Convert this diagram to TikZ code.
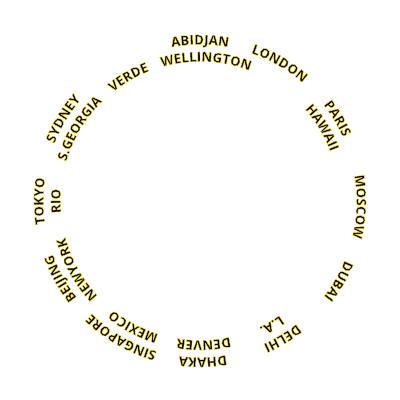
\documentclass[tikz,border=0pt]{standalone}
\usepackage{fontspec}
\setmainfont{Open Sans}
\usetikzlibrary{decorations.text}
\newcommand\clockoutline{\special{pdf:literal direct 2 Tr 0.4 w 1 0.85 0 RG}}
\newcommand\clockfmt{\fontsize{13.3}{13.3}\selectfont\bfseries\clockoutline}
\tikzset{
  citylabel/.style={decorate, decoration={text along path, text align=center, text={|\clockfmt|#1}}},
}
\newcommand\cityarc[3]{\path[citylabel={#3}] (200,199) ++(#1+60:#2) arc[start angle=#1+60, end angle=#1-60, radius=#2];}
\begin{document}
\begin{tikzpicture}[x=1pt,y=1pt]
\useasboundingbox (0,0) rectangle (400,400);
\coordinate (c) at (200,199);
% outer ring
\cityarc{90}{156.5}{ABIDJAN}
\cityarc{60}{156.5}{LONDON}
\cityarc{31}{156.5}{PARIS}
\cityarc{-2}{156.5}{MOSCOW}
\cityarc{-30}{156.5}{DUBAI}
\cityarc{-59}{156.5}{DELHI}
\cityarc{-89}{156.5}{DHAKA}
\cityarc{-120}{156.5}{SINGAPORE}
\cityarc{-151}{156.5}{BEIJING}
\cityarc{180}{156.5}{TOKYO}
\cityarc{149}{156.5}{SYDNEY}
% inner ring
\cityarc{87.5}{139.5}{WELLINGTON}
\cityarc{31}{139.5}{HAWAII}
\cityarc{-60}{139.5}{L.A.}
\cityarc{-88.5}{139.5}{DENVER}
\cityarc{-118}{139.5}{MEXICO}
\cityarc{-151}{139.5}{NEWYORK}
\cityarc{180}{139.5}{RIO}
\cityarc{149}{139.5}{S.GEORGIA}
\cityarc{120}{139.5}{VERDE}
\end{tikzpicture}
\end{document}
